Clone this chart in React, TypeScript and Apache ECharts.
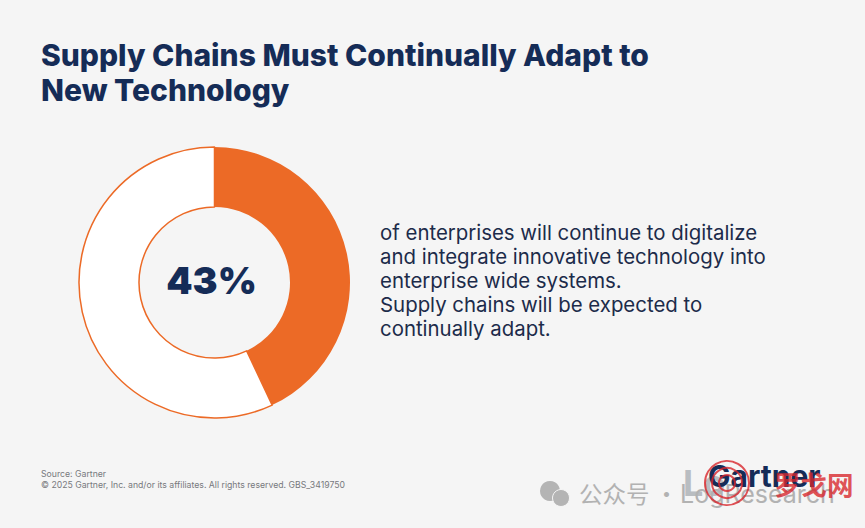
import React, { useEffect, useRef } from 'react';
import * as echarts from 'echarts';

const sliceNames = ['Continue to digitalize', 'Other'];
const sliceValues = [43, 57];
const centerLabel = '43%';
const titleLines = ['Supply Chains Must Continually Adapt to', 'New Technology'];
const bodyLines = [
  'of enterprises will continue to digitalize',
  'and integrate innovative technology into',
  'enterprise wide systems.',
  'Supply chains will be expected to',
  'continually adapt.',
];
const footLines = ['Source: Gartner', '© 2025 Gartner, Inc. and/or its affiliates. All rights reserved. GBS_3419750'];

const NAVY = '#152c57';
const ORANGE = '#ec6a26';

function textEl(text: string, x: number, y: number, style: any) {
  return { type: 'text', x, y, silent: true, style: { text, textVerticalAlign: 'middle', ...style } };
}

export default function App() {
  const elRef = useRef<HTMLDivElement>(null);

  useEffect(() => {
    if (!elRef.current) return;
    const chart = echarts.init(elRef.current, undefined, { renderer: 'svg' });

    const graphic: any[] = [];
    titleLines.forEach((t, i) => {
      graphic.push(textEl(t, 41, 55 + i * 35, { font: '800 30px Inter', fill: NAVY }));
    });
    bodyLines.forEach((t, i) => {
      graphic.push(textEl(t, 380, 232 + i * 24.2, { font: '400 20.4px Inter', fill: '#1c2b4a' }));
    });
    footLines.forEach((t, i) => {
      graphic.push(textEl(t, 41, 473.5 + i * 11, { font: '400 8.7px Inter', fill: '#77797d' }));
    });
    graphic.push(textEl(centerLabel, 211.5, 280, { font: '900 37.5px Inter', fill: NAVY, textAlign: 'center' }));

    // watermark and logo in the bottom right corner
    graphic.push(textEl('Lo', 683, 483, { font: '700 36px Inter', fill: '#b9bdc1' }));
    graphic.push({ type: 'circle', silent: true, shape: { cx: 550, cy: 491, r: 10 }, style: { fill: '#b4b4b4' } });
    graphic.push({ type: 'circle', silent: true, shape: { cx: 561, cy: 498, r: 8.5 }, style: { fill: '#b4b4b4', stroke: '#f5f5f5', lineWidth: 1 } });
    graphic.push(textEl('公众号 ·', 579, 493, { font: '400 23.5px "Noto Sans CJK SC"', fill: '#b2b2b2' }));
    graphic.push(textEl('LogResearch', 680, 494, { font: '400 25px Inter', fill: '#b2b2b2' }));
    graphic.push(textEl('Gartner', 708, 476, { font: '700 30px Inter', fill: NAVY }));
    [22, 15, 8].forEach((r) => {
      graphic.push({ type: 'circle', silent: true, shape: { cx: 727, cy: 483, r }, style: { fill: 'none', stroke: '#d8262c', lineWidth: 2, opacity: 0.8 } });
    });
    graphic.push(textEl('罗戈网', 774, 483, { font: '700 26.5px "Noto Sans CJK SC"', fill: '#d8262c', opacity: 0.8 }));

    chart.setOption({
      animation: false,
      backgroundColor: '#f5f5f5',
      series: [
        {
          type: 'pie',
          center: [214.5, 282.5],
          radius: [75.5, 135.5],
          startAngle: 90,
          clockwise: true,
          silent: true,
          label: { show: false },
          labelLine: { show: false },
          data: sliceNames.map((name, i) => ({
            name,
            value: sliceValues[i],
            itemStyle:
              i === 0
                ? { color: ORANGE }
                : { color: '#ffffff', borderColor: ORANGE, borderWidth: 1.5 },
          })),
        },
      ],
      graphic,
    });

    return () => chart.dispose();
  }, []);

  return <div ref={elRef} style={{ position: 'absolute', left: 0, top: 0, width: 865, height: 528 }} />;
}
